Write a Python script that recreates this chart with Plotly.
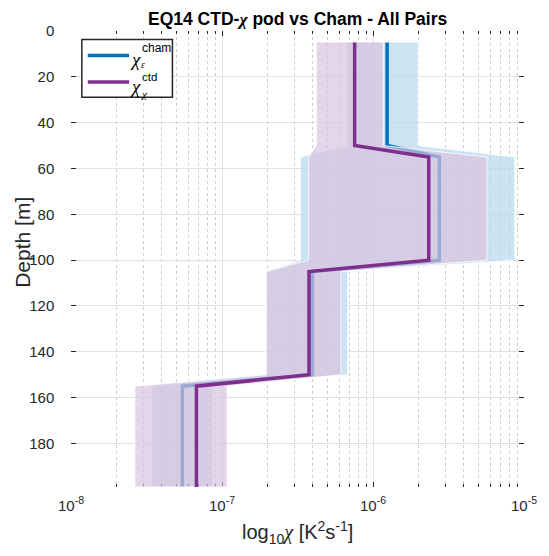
import numpy as np
import plotly.graph_objects as go

# Depth bins (top and bottom edge of each bin) [m]
bin_top = [5, 55, 105, 155]
bin_bot = [50, 100, 150, 199]

# chi from Chameleon (epsilon-based): median and spread per bin [K^2 s^-1]
cham_med = [1.24e-6, 2.75e-6, 3.97e-7, 5.46e-8]
cham_lo = [6.7e-7, 3.31e-7, 1.94e-7, 3.43e-8]
cham_hi = [1.99e-6, 8.7e-6, 6.8e-7, 8.7e-8]

# chi from CTD-chipod: median and spread per bin [K^2 s^-1]
ctd_med = [7.56e-7, 2.34e-6, 3.77e-7, 6.77e-8]
ctd_lo = [4.21e-7, 3.75e-7, 1.97e-7, 2.65e-8]
ctd_hi = [1.17e-6, 5.69e-6, 6.13e-7, 1.08e-7]

x_ticks = [1e-8, 1e-7, 1e-6, 1e-5]
x_tick_text = ["10<sup>-8</sup>", "10<sup>-7</sup>", "10<sup>-6</sup>", "10<sup>-5</sup>"]
y_ticks = list(range(0, 181, 20))

BLUE = "#0072BD"
PURPLE = "#7E2F8E"
FONT = "Liberation Sans, Arial, Helvetica, sans-serif"
CHI = '<span style="font-family:Liberation Serif, DejaVu Serif, serif"><i>χ</i></span>'

depth = np.ravel(np.column_stack([bin_top, bin_bot]))


def steps(v):
    return np.repeat(np.asarray(v, dtype=float), 2)


def band(lo, hi, fill, z):
    xs = np.concatenate([steps(lo), steps(hi)[::-1]])
    ys = np.concatenate([depth, depth[::-1]])
    return go.Scatter(
        x=xs, y=ys, mode="lines", fill="toself", fillcolor=fill,
        line=dict(color="rgba(255,255,255,0.8)", width=1),
        hoverinfo="skip", showlegend=False, zorder=z,
    )


fig = go.Figure()
# Chameleon spread, then its median profile
fig.add_trace(band(cham_lo, cham_hi, "rgba(182,215,236,0.7)", 0))
fig.add_trace(go.Scatter(x=steps(cham_med), y=depth, mode="lines",
                         line=dict(color=BLUE, width=3.5), showlegend=False, zorder=1))
# chipod spread sits over the Chameleon profile, chipod median on top
fig.add_trace(band(ctd_lo, ctd_hi, "rgba(218,195,222,0.7)", 2))
fig.add_trace(go.Scatter(x=steps(ctd_med), y=depth, mode="lines",
                         line=dict(color=PURPLE, width=3.5), showlegend=False, zorder=3))

# plot area in pixels: x 71..531, y 30.5..487.5
L, R, T, B = 71, 531, 30.5, 487.5
W, H = 549, 556


def px(x):
    return (x - L) / (R - L)


def py(y):
    return 1 - (y - T) / (B - T)


minor_vals = [m * 10.0 ** e for e in (-8, -7, -6) for m in range(2, 10)]

axis_common = dict(
    showline=True, linecolor="#262626", linewidth=1.5, mirror="ticks",
    ticks="inside", ticklen=5, tickcolor="#262626", tickwidth=1,
    tickfont=dict(family=FONT, size=15, color="#262626"),
    showgrid=True, gridcolor="#e0e0e0", gridwidth=1, zeroline=False,
)

fig.update_xaxes(
    type="log", range=[-8, -5], tickmode="array", tickvals=x_ticks,
    ticktext=x_tick_text, ticklabelstandoff=4,
    minor=dict(tickmode="array", tickvals=minor_vals, ticks="inside", ticklen=3,
               tickcolor="#262626", showgrid=True, gridcolor="#cccccc",
               griddash="dot", gridwidth=1),
    **axis_common,
)
fig.update_yaxes(
    range=[199, 0], tickmode="array", tickvals=y_ticks, ticklabelstandoff=12,
    **axis_common,
)


def label(t, x, y, size, color="#262626", angle=0, anchor="center"):
    return dict(text=t, x=px(x), y=py(y), xref="paper", yref="paper", showarrow=False,
                xanchor=anchor, yanchor="middle", textangle=angle, borderpad=0,
                font=dict(family=FONT, size=size, color=color))


annotations = [
    label(f"<b>EQ14 CTD-{CHI} pod vs Cham - All Pairs</b>", 301, 18, 17.5, "#000000"),
    label("Depth [m]", 21, 242, 21, angle=-90),
    label(f"log<sub>10</sub>{CHI} [K<sup>2</sup>s<sup>-1</sup>]", 301, 533, 20),
]

# legend drawn as a boxed key in the upper-left corner
shapes = [
    dict(type="rect", xref="paper", yref="paper", x0=px(82), x1=px(174), y0=py(39), y1=py(97),
         line=dict(color="#262626", width=1.5), fillcolor="white", layer="above"),
    dict(type="line", xref="paper", yref="paper", x0=px(88), x1=px(130), y0=py(55), y1=py(55),
         line=dict(color=BLUE, width=3.5), layer="above"),
    dict(type="line", xref="paper", yref="paper", x0=px(88), x1=px(130), y0=py(81.5), y1=py(81.5),
         line=dict(color=PURPLE, width=3.5), layer="above"),
]

annotations += [
    label(CHI, 130, 59, 19, "#000000", anchor="left"),
    label("cham", 142, 47.5, 12, "#000000", anchor="left"),
    label(CHI.replace("χ", "ε"), 141, 65, 9.5, "#000000", anchor="left"),
    label(CHI, 130, 86, 19, "#000000", anchor="left"),
    label("ctd", 142, 77, 11.5, "#000000", anchor="left"),
    label(CHI, 141, 94, 11, "#000000", anchor="left"),
]

fig.update_layout(
    width=W, height=H, autosize=False,
    margin=dict(l=L, r=W - R, t=T, b=H - B),
    paper_bgcolor="white", plot_bgcolor="white",
    showlegend=False, shapes=shapes, annotations=annotations,
)

fig.write_html("out.html")
